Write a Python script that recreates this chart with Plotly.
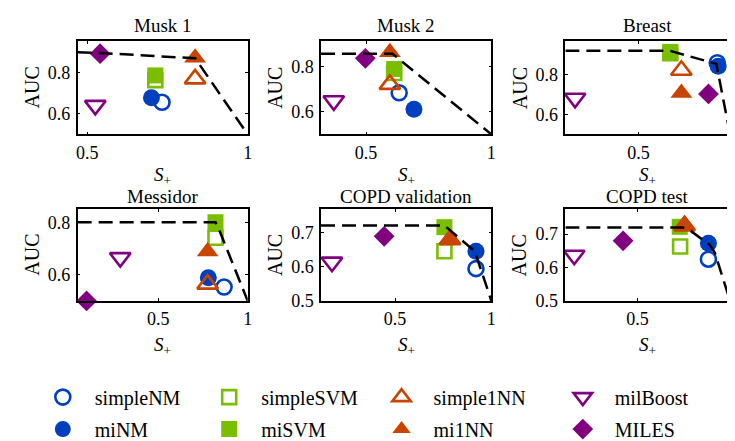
import plotly.graph_objects as go

# ---------------- data ----------------
datasets = ["Musk 1", "Musk 2", "Breast", "Messidor", "COPD validation", "COPD test"]

simpleNM_x = [0.733, 0.632, 0.930, 0.868, 0.920, 0.883]
simpleNM_y = [0.655, 0.683, 0.858, 0.553, 0.595, 0.625]
miNM_x = [0.700, 0.691, 0.935, 0.780, 0.920, 0.883]
miNM_y = [0.677, 0.611, 0.840, 0.588, 0.646, 0.673]
simpleSVM_x = [0.712, 0.612, 0.673, 0.820, 0.756, 0.730]
simpleSVM_y = [0.762, 0.770, 0.905, 0.741, 0.646, 0.663]
miSVM_x = [0.712, 0.612, 0.673, 0.820, 0.756, 0.728]
miSVM_y = [0.785, 0.788, 0.912, 0.800, 0.717, 0.722]
simple1NN_x = [0.836, 0.595, 0.734, 0.776, 0.785, 0.754]
simple1NN_y = [0.768, 0.720, 0.820, 0.564, 0.680, 0.725]
mi1NN_x = [0.836, 0.595, 0.734, 0.776, 0.785, 0.754]
mi1NN_y = [0.870, 0.862, 0.706, 0.688, 0.683, 0.730]
milBoost_x = [0.525, 0.371, 0.153, 0.288, 0.172, 0.158]
milBoost_y = [0.640, 0.648, 0.680, 0.665, 0.614, 0.637]
MILES_x = [0.540, 0.497, 0.882, 0.100, 0.443, 0.422]
MILES_y = [0.890, 0.835, 0.702, 0.500, 0.690, 0.680]

# Pareto fronts (dashed)
musk1_front_x = [0.47, 0.54, 0.836, 1.0]
musk1_front_y = [0.897, 0.893, 0.868, 0.5]
musk2_front_x = [0.32, 0.605, 1.0]
musk2_front_y = [0.855, 0.855, 0.5]
breast_front_x = [0.10, 0.673, 0.925, 1.0]
breast_front_y = [0.917, 0.917, 0.852, 0.5]
messidor_front_x = [0.05, 0.82, 0.834, 1.0]
messidor_front_y = [0.80, 0.80, 0.782, 0.5]
copdval_front_x = [0.115, 0.756, 0.914, 1.0]
copdval_front_y = [0.722, 0.722, 0.646, 0.5]
copdtest_front_x = [0.11, 0.745, 0.789, 0.89, 0.918, 1.0]
copdtest_front_y = [0.72, 0.72, 0.709, 0.668, 0.644, 0.5]

x_ranges = [[0.47, 1.0], [0.32, 1.0], [0.10, 1.0], [0.05, 1.0], [0.115, 1.0], [0.11, 1.0]]
y_ranges = [[0.5, 0.95], [0.5, 0.91], [0.5, 0.965], [0.5, 0.85], [0.5, 0.77], [0.5, 0.775]]
x_tickvals = [0.5, 1]
y_tickvals = [[0.6, 0.8], [0.6, 0.8], [0.6, 0.8], [0.6, 0.8], [0.5, 0.6, 0.7], [0.5, 0.6, 0.7]]

# ---------------- styling ----------------
FONT = "Liberation Serif, Times New Roman, serif"
BLUE = "#003FBE"
GREEN = "#7ABE00"
ORANGE = "#C84400"
PURPLE = "#800080"

series = {
    "simpleNM": (simpleNM_x, simpleNM_y),
    "miNM": (miNM_x, miNM_y),
    "simpleSVM": (simpleSVM_x, simpleSVM_y),
    "miSVM": (miSVM_x, miSVM_y),
    "simple1NN": (simple1NN_x, simple1NN_y),
    "mi1NN": (mi1NN_x, mi1NN_y),
    "milBoost": (milBoost_x, milBoost_y),
    "MILES": (MILES_x, MILES_y),
}
styles = {
    "simpleNM": dict(symbol="circle-open", size=15, color=BLUE, lw=2.6, legend="legend"),
    "miNM": dict(symbol="circle", size=17, color=BLUE, lw=0, legend="legend"),
    "simpleSVM": dict(symbol="square-open", size=14, color=GREEN, lw=2.6, legend="legend2"),
    "miSVM": dict(symbol="square", size=16, color=GREEN, lw=0, legend="legend2"),
    "simple1NN": dict(symbol="triangle-up-open", size=18, color=ORANGE, lw=2.6, legend="legend3"),
    "mi1NN": dict(symbol="triangle-up", size=19, color=ORANGE, lw=0, legend="legend3"),
    "milBoost": dict(symbol="triangle-down-open", size=18, color=PURPLE, lw=2.6, legend="legend4"),
    "MILES": dict(symbol="diamond", size=16, color=PURPLE, lw=0, legend="legend4"),
}
fronts = [
    (musk1_front_x, musk1_front_y),
    (musk2_front_x, musk2_front_y),
    (breast_front_x, breast_front_y),
    (messidor_front_x, messidor_front_y),
    (copdval_front_x, copdval_front_y),
    (copdtest_front_x, copdtest_front_y),
]

W, H = 735, 441
col_px = [(68.3, 240.0), (314.0, 486.0), (560.7, 727.0)]
row_px = [(35.0, 133.0), (211.7, 308.3)]

fig = go.Figure()
layout = dict(
    width=W, height=H,
    margin=dict(l=0, r=0, t=0, b=0),
    paper_bgcolor="white", plot_bgcolor="white",
    font=dict(family=FONT, size=18, color="black"),
    showlegend=True,
    annotations=[],
)

for i, name in enumerate(datasets):
    n = "" if i == 0 else str(i + 1)
    r, c = divmod(i, 3)
    x0, x1 = col_px[c]
    y0, y1 = row_px[r]
    xd = [x0 / W, x1 / W]
    yd = [1 - y1 / H, 1 - y0 / H]

    for m, (xs, ys) in series.items():
        st = styles[m]
        fig.add_trace(go.Scatter(
            x=[xs[i]], y=[ys[i]], mode="markers", name=m,
            xaxis="x" + n, yaxis="y" + n,
            legendgroup=m, showlegend=(i == 0), legend=st["legend"],
            cliponaxis=False,
            marker=dict(symbol=st["symbol"], size=st["size"], color=st["color"],
                        line=dict(color=st["color"], width=st["lw"])),
        ))
    fx, fy = fronts[i]
    fig.add_trace(go.Scatter(
        x=fx, y=fy, mode="lines", showlegend=False,
        xaxis="x" + n, yaxis="y" + n,
        line=dict(color="black", width=2.5, dash="14px,7px"),
        hoverinfo="skip",
    ))

    axis_common = dict(showgrid=False, zeroline=False, showline=True, linecolor="black",
                       linewidth=1.5, mirror="ticks", ticks="inside", ticklen=3,
                       tickwidth=1, tickcolor="black",
                       tickfont=dict(family=FONT, size=18, color="black"))
    layout["xaxis" + n] = dict(domain=xd, anchor="y" + n, range=x_ranges[i],
                               tickvals=x_tickvals, ticklabelstandoff=1, **axis_common)
    layout["yaxis" + n] = dict(domain=yd, anchor="x" + n, range=y_ranges[i],
                               tickvals=y_tickvals[i], ticklabelstandoff=2, **axis_common)

    xc = (xd[0] + xd[1]) / 2
    layout["annotations"] += [
        dict(text=name, x=xc, y=yd[1], xref="paper", yref="paper",
             xanchor="center", yanchor="bottom", yshift=0 if r == 1 else 3, showarrow=False,
             font=dict(family=FONT, size=19, color="black")),
        dict(text="AUC", x=xd[0], y=(yd[0] + yd[1]) / 2, xref="paper", yref="paper",
             xanchor="center", yanchor="middle", xshift=-46, textangle=-90,
             showarrow=False, font=dict(family=FONT, size=20, color="black")),
        dict(text="<i>S</i><sub>+</sub>", x=xc, y=yd[0], xref="paper", yref="paper",
             xanchor="center", yanchor="middle", yshift=-42 if r == 0 else -45,
             showarrow=False, font=dict(family=FONT, size=19, color="black")),
    ]

legend_left_px = [21, 189, 363, 546]
for k, lx in enumerate(legend_left_px):
    key = "legend" if k == 0 else "legend%d" % (k + 1)
    layout[key] = dict(x=lx / W, y=1 - 389 / H, xanchor="left", yanchor="top",
                       orientation="v", itemwidth=54, tracegroupgap=3,
                       bgcolor="rgba(0,0,0,0)", borderwidth=0,
                       font=dict(family=FONT, size=20, color="black"))

fig.update_layout(**layout)
fig.write_html("out.html")
